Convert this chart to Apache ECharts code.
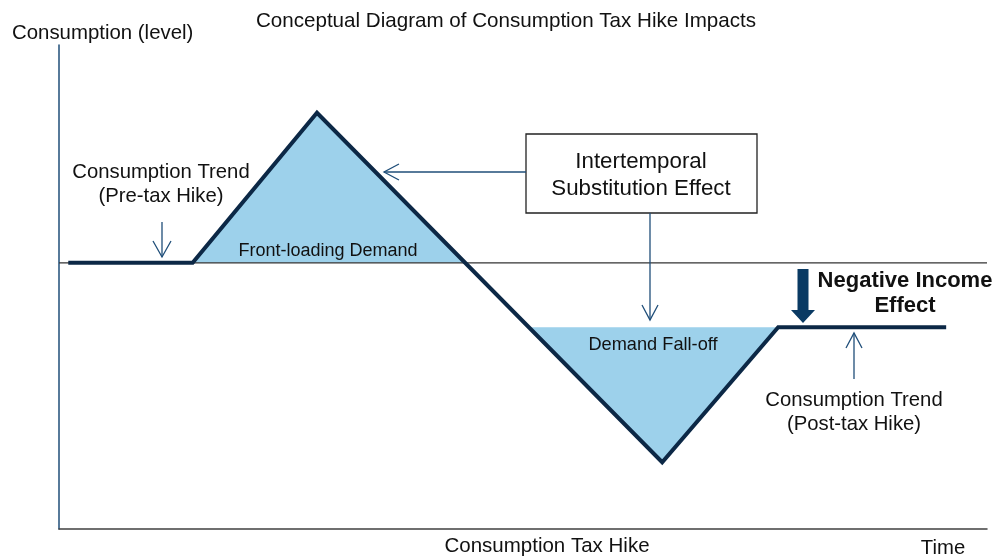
<!DOCTYPE html>
<html>
<head>
<meta charset="utf-8">
<script src="https://cdn.jsdelivr.net/npm/echarts@6/dist/echarts.min.js"></script>
<style>
  html, body { margin: 0; padding: 0; background: #fff; }
  #chart { width: 996px; height: 556px; }
</style>
</head>
<body>
<div id="chart"></div>
<script>
// consumption path (conceptual units, time 0-100, level 0-100)
const trendX = [1, 14.4, 27.8, 65.0, 77.5, 95.6];
const trendY = [55, 55, 86, 13.8, 41.7, 41.7];
// pre-hike trend level extended across the chart
const baseX = [0, 100];
const baseY = [55, 55];
// front-loading demand (above the pre-hike trend)
const frontX = [14.4, 27.8, 43.8];
const frontY = [55, 86, 55];
const frontLevel = 55;
// demand fall-off (below the post-hike trend)
const fallX = [50.6, 65.0, 77.5];
const fallY = [41.7, 13.8, 41.7];
const fallLevel = 41.7;

const FONT = '"Liberation Sans", Arial, sans-serif';
const NAVY = '#1f4e79';

function pairs(xs, ys) {
    return xs.map((x, i) => [x, ys[i]]);
}

function label(text, x, y, size, bold, align) {
    return {
        type: 'text', z: 50,
        style: {
            text: text, x: x, y: y,
            fill: '#111',
            font: (bold ? 'bold ' : '') + size + 'px ' + FONT,
            textAlign: align || 'center',
            textVerticalAlign: 'middle'
        }
    };
}

function thinLine(points) {
    return {
        type: 'polyline', z: 40,
        shape: { points: points },
        style: { stroke: NAVY, lineWidth: 1.3, fill: null }
    };
}

const chart = echarts.init(document.getElementById('chart'));

const option = {
    backgroundColor: '#fff',
    animation: false,
    grid: { left: 59, right: 9, top: 45, bottom: 27 },
    xAxis: {
        type: 'value', min: 0, max: 100,
        axisLine: { show: true, lineStyle: { color: '#404040', width: 1.5 } },
        axisTick: { show: false },
        axisLabel: { show: false },
        splitLine: { show: false }
    },
    yAxis: {
        type: 'value', min: 0, max: 100,
        axisLine: { show: true, lineStyle: { color: NAVY, width: 1.5 } },
        axisTick: { show: false },
        axisLabel: { show: false },
        splitLine: { show: false }
    },
    series: [
        {
            name: 'Front-loading Demand',
            type: 'line', z: 1,
            data: pairs(frontX, frontY),
            symbol: 'none',
            lineStyle: { width: 0, opacity: 0 },
            areaStyle: { color: '#9dd1eb', opacity: 1, origin: frontLevel }
        },
        {
            name: 'Demand Fall-off',
            type: 'line', z: 1,
            data: pairs(fallX, fallY),
            symbol: 'none',
            lineStyle: { width: 0, opacity: 0 },
            areaStyle: { color: '#9dd1eb', opacity: 1, origin: fallLevel }
        },
        {
            name: 'Trend level',
            type: 'line', z: 2,
            data: pairs(baseX, baseY),
            symbol: 'none',
            lineStyle: { color: '#333', width: 1.2 }
        },
        {
            name: 'Consumption',
            type: 'line', z: 3,
            data: pairs(trendX, trendY),
            symbol: 'none',
            lineStyle: { color: '#0c2846', width: 4, join: 'miter' }
        }
    ],
    graphic: [
        label('Conceptual Diagram of Consumption Tax Hike Impacts', 506, 21, 20.6),
        label('Consumption (level)', 12, 33, 20.4, false, 'left'),
        label('Consumption Trend', 161, 172, 20.3),
        label('(Pre-tax Hike)', 161, 196, 20.3),
        label('Front-loading Demand', 328, 251, 18),
        {
            type: 'rect', z: 30,
            shape: { x: 526, y: 134, width: 231, height: 79 },
            style: { fill: '#fff', stroke: '#222', lineWidth: 1.3 }
        },
        label('Intertemporal', 641, 162, 22.3),
        label('Substitution Effect', 641, 189, 22.3),
        thinLine([[526, 172], [384, 172]]),
        thinLine([[399, 164], [384, 172], [399, 180]]),
        thinLine([[650, 213], [650, 320]]),
        thinLine([[642, 305], [650, 320], [658, 305]]),
        thinLine([[162, 222], [162, 257]]),
        thinLine([[153, 241], [162, 257], [171, 241]]),
        thinLine([[854, 379], [854, 333]]),
        thinLine([[846, 348], [854, 333], [862, 348]]),
        label('Demand Fall-off', 653, 345, 18.2),
        {
            type: 'polygon', z: 40,
            shape: { points: [[797.5, 269], [808.5, 269], [808.5, 310], [815, 310], [803, 323], [791, 310], [797.5, 310]] },
            style: { fill: '#0a3a63' }
        },
        label('Negative Income', 905, 281, 22, true),
        label('Effect', 905, 306, 22, true),
        label('Consumption Trend', 854, 400, 20.3),
        label('(Post-tax Hike)', 854, 424, 20.3),
        label('Consumption Tax Hike', 547, 546, 20.5),
        label('Time', 943, 548, 20.3)
    ]
};

chart.setOption(option);
</script>
</body>
</html>
